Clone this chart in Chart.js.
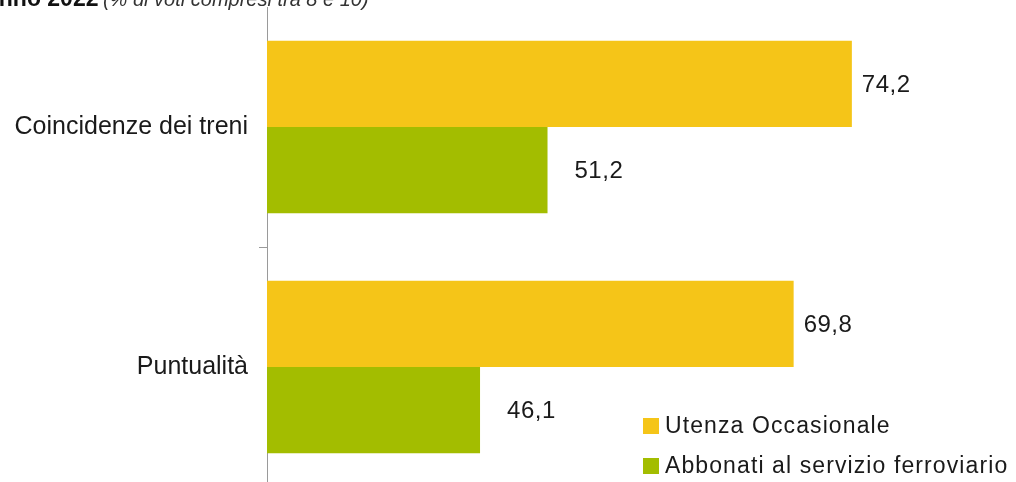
<!DOCTYPE html>
<html lang="it">
<head>
<meta charset="utf-8">
<title>Soddisfazione servizio ferroviario</title>
<script src="https://cdn.jsdelivr.net/npm/chart.js@4/dist/chart.umd.min.js"></script>
<style>
  html, body { margin: 0; padding: 0; background: #fff; overflow: hidden; }
  #wrap { position: relative; width: 1016px; height: 482px; overflow: hidden; }
  #title {
    position: absolute; left: -14px; top: -15px; white-space: nowrap;
    font-family: "Liberation Sans", Arial, sans-serif; color: #111; z-index: 2;
  }
  #title b { font-size: 23px; }
  #title i { font-size: 20px; color: #333; }
  /* the canvas is taller than the page: the y axis keeps half a label of
     padding above and below, which is pushed off screen here */
  canvas { position: absolute; left: 0; top: -19px; }
</style>
</head>
<body>
<div id="wrap">
  <canvas id="chart" width="1016" height="532"></canvas>
  <div id="title"><b>anno 2022</b> <i>(% di voti compresi tra 8 e 10)</i></div>
</div>
<script>
  const categories = ['Coincidenze dei treni', 'Puntualità'];
  const seriesNames = ['Utenza Occasionale', 'Abbonati al servizio ferroviario'];
  const occasionali = [74.2, 69.8];
  const abbonati = [51.2, 46.1];
  const colors = ['#F5C518', '#A3BD00'];

  const FONT = '"Liberation Sans", Arial, sans-serif';

  // value labels next to the end of each bar
  const valueLabels = {
    id: 'valueLabels',
    afterDatasetsDraw(chart) {
      const ctx = chart.ctx;
      const gaps = [10, 27];
      ctx.save();
      ctx.font = '24px ' + FONT;
      ctx.letterSpacing = '0.5px';
      ctx.fillStyle = '#1a1a1a';
      ctx.textBaseline = 'middle';
      ctx.textAlign = 'left';
      chart.data.datasets.forEach((ds, i) => {
        chart.getDatasetMeta(i).data.forEach((bar, j) => {
          const txt = ds.data[j].toFixed(1).replace('.', ',');
          ctx.fillText(txt, bar.x + gaps[i], bar.y + 1);
        });
      });
      ctx.restore();
    }
  };

  // legend drawn in the lower right corner, over the plot
  const cornerLegend = {
    id: 'cornerLegend',
    afterDraw(chart) {
      const ctx = chart.ctx;
      const x = 643, rows = [445, 485];
      ctx.save();
      ctx.font = '23px ' + FONT;
      ctx.letterSpacing = '1.1px';
      ctx.textBaseline = 'middle';
      chart.data.datasets.forEach((ds, i) => {
        ctx.fillStyle = ds.backgroundColor;
        ctx.fillRect(x, rows[i] - 8, 16, 16);
        ctx.fillStyle = '#1a1a1a';
        ctx.fillText(ds.label, x + 22, rows[i] + 1);
      });
      ctx.restore();
    }
  };

  new Chart(document.getElementById('chart'), {
    type: 'bar',
    data: {
      labels: categories,
      datasets: [
        { label: seriesNames[0], data: occasionali, backgroundColor: colors[0] },
        { label: seriesNames[1], data: abbonati, backgroundColor: colors[1] }
      ]
    },
    options: {
      indexAxis: 'y',
      responsive: false,
      animation: false,
      layout: { padding: { top: 0, right: 8, bottom: 0, left: 0 } },
      datasets: {
        bar: { categoryPercentage: 0.718, barPercentage: 1, borderWidth: 0 }
      },
      scales: {
        x: { display: false, min: 30, max: 86 },
        y: {
          afterFit(scale) { scale.width = 267; },
          grid: {
            drawOnChartArea: false,
            tickLength: 8,
            color: c => c.index === 1 ? '#9a9a9a' : 'rgba(0,0,0,0)'
          },
          border: { display: true, color: '#9a9a9a', width: 1 },
          ticks: {
            padding: 11,
            color: '#1a1a1a',
            font: { family: FONT, size: 25 }
          }
        }
      },
      plugins: {
        legend: { display: false },
        tooltip: { enabled: false }
      }
    },
    plugins: [valueLabels, cornerLegend]
  });
</script>
</body>
</html>
